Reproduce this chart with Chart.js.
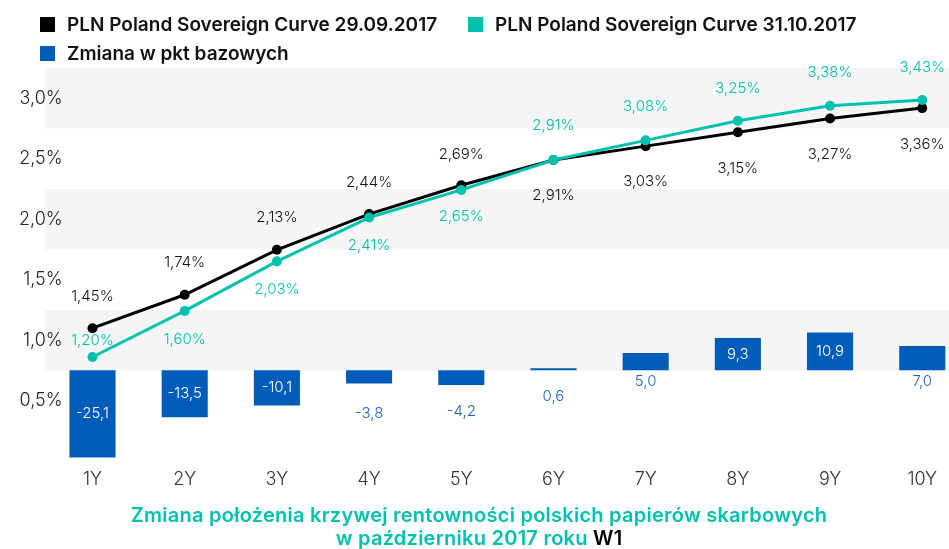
<!DOCTYPE html>
<html lang="pl">
<head>
<meta charset="utf-8">
<title>Krzywa rentowności</title>
<script src="https://cdn.jsdelivr.net/npm/chart.js@4.4.1/dist/chart.umd.min.js"></script>
<style>
  html, body { margin: 0; padding: 0; background: #fff; }
  body { width: 949px; height: 549px; position: relative; overflow: hidden; font-family: 'Inter', 'Noto Sans', sans-serif; }
  #chart { position: absolute; left: 0; top: 0; }
  .legend-item { position: absolute; display: flex; align-items: center; height: 20px; font-size: 19px; font-weight: 600; color: #111; white-space: nowrap; }
  .legend-item i { display: inline-block; width: 15px; height: 15px; margin-right: 12px; }
  .caption { position: absolute; left: 0; width: 958px; top: 504px; text-align: center; font-size: 20px; letter-spacing: 0.25px; line-height: 23px; font-weight: 600; color: #00c1ae; }
  .caption b { color: #000; font-weight: 600; }
</style>
</head>
<body>
<canvas id="chart" width="949" height="549"></canvas>
<div id="legend"></div>
<div class="caption">Zmiana położenia krzywej rentowności polskich papierów skarbowych<br>w październiku 2017 roku <b>W1</b></div>
<script>
const tenors = ['1Y', '2Y', '3Y', '4Y', '5Y', '6Y', '7Y', '8Y', '9Y', '10Y'];
const curveSep = [1.45, 1.74, 2.13, 2.44, 2.69, 2.91, 3.03, 3.15, 3.27, 3.36];
const curveOct = [1.20, 1.60, 2.03, 2.41, 2.65, 2.91, 3.08, 3.25, 3.38, 3.43];
const changeBp = [-25.1, -13.5, -10.1, -3.8, -4.2, 0.6, 5.0, 9.3, 10.9, 7.0];
const yTickValues = [0.5, 1.0, 1.5, 2.0, 2.5, 3.0];

const black = '#000000';
const teal = '#00c1ae';
const blue = '#005cb9';
const fontFamily = "'Inter', 'Noto Sans', sans-serif";

const pts = arr => arr.map((v, i) => ({ x: i + 1, y: v }));
const comma = (v, d) => v.toFixed(d).replace('.', ',');

// grey stripes behind the plot, one per whole-percent tick
const bands = {
  id: 'bands',
  beforeDraw(chart) {
    const { ctx, chartArea: a, scales: { y } } = chart;
    ctx.save();
    ctx.fillStyle = '#f5f5f5';
    yTickValues.filter(v => Number.isInteger(v)).forEach(v => {
      const top = y.getPixelForValue(v + 0.25);
      const bottom = y.getPixelForValue(v - 0.25);
      ctx.fillRect(a.left, top, a.right - a.left, bottom - top);
    });
    ctx.restore();
  },
};

const valueLabels = {
  id: 'valueLabels',
  afterDatasetsDraw(chart) {
    const ctx = chart.ctx;
    ctx.save();
    ctx.textAlign = 'center';
    ctx.textBaseline = 'middle';
    ctx.font = `300 15px ${fontFamily}`;
    chart.data.datasets.forEach((ds, di) => {
      const meta = chart.getDatasetMeta(di);
      meta.data.forEach((el, i) => {
        const v = ds.data[i].y;
        const off = ds.labelOffsets[i];
        let y, text, color = ds.labelColor;
        if (ds.type === 'bar') {
          text = comma(v, 1);
          if (off === null) {
            y = (el.y + el.base) / 2;
            color = '#ffffff';
          } else {
            y = Math.max(el.y, el.base) + off;
          }
        } else {
          text = comma(v, 2) + '%';
          y = el.y + off;
        }
        ctx.fillStyle = color;
        ctx.fillText(text, el.x, y);
      });
    });
    ctx.restore();
  },
};

const ctx = document.getElementById('chart').getContext('2d');
const chart = new Chart(ctx, {
  data: {
    datasets: [
      {
        type: 'line',
        label: 'PLN Poland Sovereign Curve 29.09.2017',
        data: pts(curveSep),
        yAxisID: 'yLine',
        borderColor: black,
        backgroundColor: black,
        borderWidth: 3,
        pointRadius: 5,
        pointBorderWidth: 0,
        pointBackgroundColor: black,
        tension: 0,
        clip: false,
        order: 2,
        labelColor: '#111111',
        labelOffsets: [-32, -32, -32, -32, -31, 36, 35, 36, 36, 36],
      },
      {
        type: 'line',
        label: 'PLN Poland Sovereign Curve 31.10.2017',
        data: pts(curveOct),
        yAxisID: 'yLine',
        borderColor: teal,
        backgroundColor: teal,
        borderWidth: 3,
        pointRadius: 5,
        pointBorderWidth: 0,
        pointBackgroundColor: teal,
        tension: 0,
        clip: false,
        order: 1,
        labelColor: teal,
        labelOffsets: [-17, 29, 28, 28, 27, -34, -34, -32, -33, -33],
      },
      {
        type: 'bar',
        label: 'Zmiana w pkt bazowych',
        data: pts(changeBp),
        yAxisID: 'yBar',
        backgroundColor: blue,
        barPercentage: 0.5,
        categoryPercentage: 1.0,
        clip: false,
        order: 3,
        labelColor: '#1f63c2',
        labelOffsets: [null, null, null, 30, 27, 26, 11, null, null, 11],
      },
    ],
  },
  options: {
    responsive: false,
    animation: false,
    layout: { autoPadding: false, padding: { top: 68, bottom: 52, left: 0, right: 0 } },
    plugins: {
      legend: { display: false },
      tooltip: { enabled: false },
    },
    scales: {
      x: {
        type: 'linear',
        offset: false,
        min: 0.485,
        max: 10.29,
        afterBuildTicks(scale) {
          scale.ticks = tenors.map((_, i) => ({ value: i + 1 }));
        },
        ticks: {
          callback: v => tenors[Math.round(v) - 1],
          color: '#333333',
          font: { family: fontFamily, size: 18, weight: 300 },
          padding: 7,
          maxRotation: 0,
          autoSkip: false,
        },
        grid: { display: false, drawTicks: false },
        border: { display: false },
      },
      y: {
        type: 'linear',
        position: 'left',
        min: 0,
        max: 3.25,
        afterBuildTicks(scale) {
          scale.ticks = yTickValues.map(v => ({ value: v }));
        },
        afterFit(scale) {
          scale.width = 45;
        },
        ticks: {
          callback: v => comma(v, 1) + '%',
          color: '#222222',
          font: { family: fontFamily, size: 18, weight: 300 },
          mirror: true,
          crossAlign: 'far',
          padding: -26,
        },
        grid: { display: false, drawTicks: false },
        border: { display: false },
      },
      yLine: { display: false, min: 0.294, max: 3.708 },
      yBar: { display: false, min: -26.2, max: 87.0 },
    },
  },
  plugins: [bands, valueLabels],
});

// legend laid out as in the original: two items on the first row, bars below
const legendSpots = [[40, 14], [468, 14], [40, 43]];
const legendEl = document.getElementById('legend');
chart.data.datasets.forEach((ds, i) => {
  const item = document.createElement('div');
  item.className = 'legend-item';
  item.style.left = legendSpots[i][0] + 'px';
  item.style.top = legendSpots[i][1] + 'px';
  const box = document.createElement('i');
  box.style.background = ds.backgroundColor;
  item.appendChild(box);
  item.appendChild(document.createTextNode(ds.label));
  legendEl.appendChild(item);
});
</script>
</body>
</html>
